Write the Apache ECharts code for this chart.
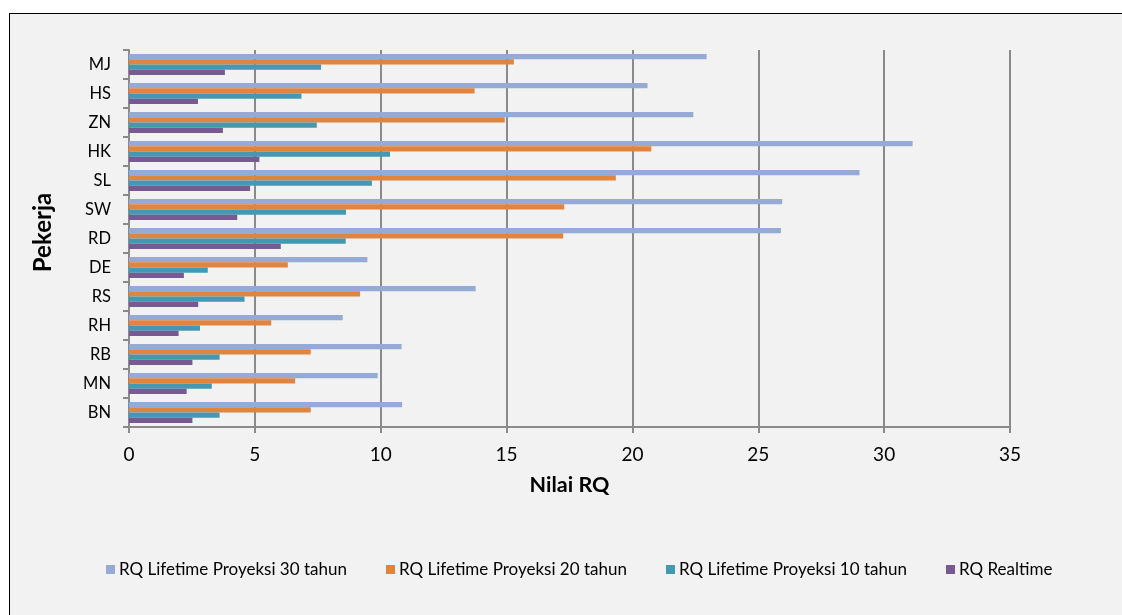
<!DOCTYPE html>
<html>
<head>
<meta charset="utf-8">
<script src="https://cdn.jsdelivr.net/npm/echarts@6/dist/echarts.min.js"></script>
<style>
  html, body { margin: 0; padding: 0; width: 1122px; height: 615px; overflow: hidden; background: #ffffff; }
  #frame { position: absolute; left: 9px; top: 13px; width: 1200px; height: 700px; border: 1px solid #000; background: #f2f2f2; }
  #chart { position: absolute; left: 0; top: 0; width: 1122px; height: 615px; }
</style>
</head>
<body>
<div id="frame"></div>
<div id="chart"></div>
<script>
// Workers, listed bottom to top as on the category axis
const categories = ['BN', 'MN', 'RB', 'RH', 'RS', 'DE', 'RD', 'SW', 'SL', 'HK', 'ZN', 'HS', 'MJ'];

// RQ values per worker
const rq30 = [10.85, 9.88, 10.83, 8.49, 13.77, 9.47, 25.90, 25.95, 29.02, 31.13, 22.42, 20.60, 22.95];
const rq20 = [7.22, 6.60, 7.22, 5.65, 9.18, 6.31, 17.25, 17.29, 19.34, 20.75, 14.93, 13.73, 15.29];
const rq10 = [3.60, 3.29, 3.60, 2.82, 4.59, 3.13, 8.61, 8.62, 9.65, 10.37, 7.46, 6.85, 7.63];
const rqRealtime = [2.52, 2.29, 2.52, 1.97, 2.75, 2.18, 6.03, 4.30, 4.81, 5.18, 3.73, 2.74, 3.81];

const seriesNames = [
  'RQ Lifetime Proyeksi 30 tahun',
  'RQ Lifetime Proyeksi 20 tahun',
  'RQ Lifetime Proyeksi 10 tahun',
  'RQ Realtime'
];
const seriesData = [rq30, rq20, rq10, rqRealtime];
const colors = ['#95aad4', '#e08540', '#4399b1', '#765a91'];

const xTicks = { min: 0, max: 35, interval: 5 };

const FONT = 'Lato, "Open Sans", sans-serif';
const AXIS_GRAY = '#8a8a8a';

const chart = echarts.init(document.getElementById('chart'), null, { renderer: 'canvas' });

// one legend block per series so each entry sits on its own slot
const legendLefts = [106, 386, 666, 946];

chart.setOption({
  animation: false,
  color: colors,
  textStyle: { fontFamily: FONT, color: '#000' },
  grid: { left: 129, right: 112, top: 50, bottom: 188, containLabel: false },
  legend: seriesNames.map((name, i) => ({
    data: [name],
    left: legendLefts[i],
    top: 561,
    padding: 0,
    itemWidth: 9,
    itemHeight: 9,
    itemGap: 0,
    icon: 'rect',
    textStyle: { fontFamily: FONT, fontSize: 17, color: '#000', padding: [0, 0, 0, -1] }
  })),
  xAxis: {
    type: 'value',
    min: xTicks.min,
    max: xTicks.max,
    interval: xTicks.interval,
    name: 'Nilai RQ',
    nameLocation: 'middle',
    nameGap: 47,
    nameTextStyle: { fontFamily: FONT, fontSize: 21.5, fontWeight: 'bold', color: '#000' },
    axisLine: { show: true, lineStyle: { color: AXIS_GRAY, width: 2 } },
    axisTick: { show: true, length: 6, lineStyle: { color: AXIS_GRAY, width: 2 } },
    axisLabel: { fontFamily: FONT, fontSize: 19, color: '#000', margin: 18 },
    splitLine: { show: true, lineStyle: { color: AXIS_GRAY, width: 2 } }
  },
  yAxis: {
    type: 'category',
    data: categories,
    name: 'Pekerja',
    nameLocation: 'middle',
    nameGap: 74,
    nameRotate: 90,
    nameTextStyle: { fontFamily: FONT, fontSize: 24, fontWeight: 'bold', color: '#000', padding: [0, 0, 0, 12] },
    axisLine: { show: true, lineStyle: { color: AXIS_GRAY, width: 2 } },
    axisTick: { show: true, length: 6, lineStyle: { color: AXIS_GRAY, width: 2 } },
    axisLabel: { fontFamily: FONT, fontSize: 16.5, color: '#000', margin: 18 },
    splitLine: { show: false }
  },
  series: seriesNames.map((name, i) => ({
    name: name,
    type: 'bar',
    data: seriesData[i],
    barGap: '0%',
    barCategoryGap: '28%',
    itemStyle: { color: colors[i] }
  }))
});
</script>
</body>
</html>
